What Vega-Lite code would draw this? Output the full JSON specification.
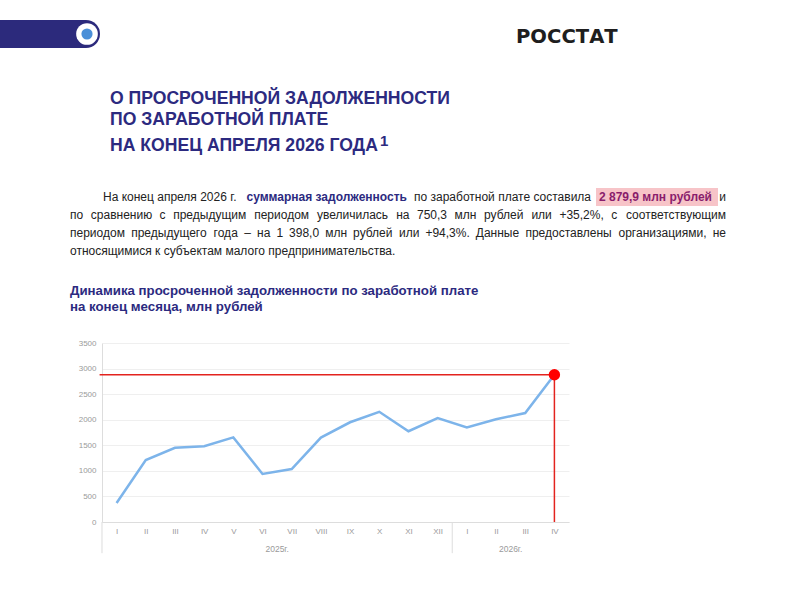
{
  "$schema": "https://vega.github.io/schema/vega-lite/v6.json",
  "width": 467,
  "height": 179,
  "autosize": {"type": "none"},
  "padding": {"left": 102, "top": 343, "right": 231, "bottom": 82},
  "background": "white",
  "config": {"view": {"stroke": null}, "font": "Liberation Sans"},
  "datasets": {
    "debt": [
      {"period": "I|2025", "month": "I", "value": 370},
      {"period": "II|2025", "month": "II", "value": 1210},
      {"period": "III|2025", "month": "III", "value": 1450},
      {"period": "IV|2025", "month": "IV", "value": 1481.9},
      {"period": "V|2025", "month": "V", "value": 1655},
      {"period": "VI|2025", "month": "VI", "value": 940},
      {"period": "VII|2025", "month": "VII", "value": 1035},
      {"period": "VIII|2025", "month": "VIII", "value": 1650},
      {"period": "IX|2025", "month": "IX", "value": 1950},
      {"period": "X|2025", "month": "X", "value": 2155},
      {"period": "XI|2025", "month": "XI", "value": 1775},
      {"period": "XII|2025", "month": "XII", "value": 2030},
      {"period": "I|2026", "month": "I", "value": 1850},
      {"period": "II|2026", "month": "II", "value": 2010},
      {"period": "III|2026", "month": "III", "value": 2129.6},
      {"period": "IV|2026", "month": "IV", "value": 2879.9}
    ],
    "ref": [{"period": "I|2025", "last": "IV|2026", "value": 2879.9}],
    "years": [
      {"period": "VI|2025", "year": "2025г."},
      {"period": "II|2026", "year": "2026г."}
    ],
    "one": [{}]
  },
  "data": {"name": "debt"},
  "layer": [
    {"data": {"name": "one"}, "mark": {"type": "rule", "stroke": "#2c2a7c", "strokeWidth": 28, "strokeCap": "round"},
      "encoding": {"x": {"value": -130}, "x2": {"value": -16}, "y": {"value": -309}, "y2": {"value": -309}}},
    {"data": {"name": "one"}, "mark": {"type": "point", "filled": true, "fill": "white", "size": 470, "opacity": 1},
      "encoding": {"x": {"value": -15}, "y": {"value": -309}}},
    {"data": {"name": "one"}, "mark": {"type": "point", "filled": true, "fill": "#4a8fd8", "size": 125, "opacity": 1},
      "encoding": {"x": {"value": -15}, "y": {"value": -309}}},
    {"data": {"name": "one"}, "mark": {"type": "text", "text": "РОССТАТ", "font": "DejaVu Sans", "fontWeight": "bold", "fontSize": 19.6, "fill": "#1e1e1e", "align": "left", "baseline": "alphabetic"},
      "encoding": {"x": {"value": 414}, "y": {"value": -300}}},
    {"data": {"name": "one"}, "mark": {"type": "text", "text": "О ПРОСРОЧЕННОЙ ЗАДОЛЖЕННОСТИ", "fontWeight": "bold", "fontSize": 17.6, "fill": "#2c2a80", "align": "left", "baseline": "alphabetic"},
      "encoding": {"x": {"value": 8}, "y": {"value": -239}}},
    {"data": {"name": "one"}, "mark": {"type": "text", "text": "ПО ЗАРАБОТНОЙ ПЛАТЕ", "fontWeight": "bold", "fontSize": 17.6, "fill": "#2c2a80", "align": "left", "baseline": "alphabetic"},
      "encoding": {"x": {"value": 8}, "y": {"value": -218}}},
    {"data": {"name": "one"}, "mark": {"type": "text", "text": "НА КОНЕЦ АПРЕЛЯ 2026 ГОДА", "fontWeight": "bold", "fontSize": 17.6, "fill": "#2c2a80", "align": "left", "baseline": "alphabetic"},
      "encoding": {"x": {"value": 8}, "y": {"value": -192}}},
    {"data": {"name": "one"}, "mark": {"type": "text", "text": "1", "fontWeight": "bold", "fontSize": 15, "fill": "#2c2a80", "align": "left", "baseline": "alphabetic"},
      "encoding": {"x": {"value": 278}, "y": {"value": -197}}},
    {"data": {"name": "one"}, "mark": {"type": "rect", "fill": "#f7c4c8"},
      "encoding": {"x": {"value": 494}, "x2": {"value": 616}, "y": {"value": -155}, "y2": {"value": -137}}},
    {"data": {"name": "one"}, "mark": {"type": "text", "text": "На конец апреля 2026 г.", "fontSize": 12, "fill": "#222222", "align": "left", "baseline": "alphabetic"},
      "encoding": {"x": {"value": 1}, "y": {"value": -142}}},
    {"data": {"name": "one"}, "mark": {"type": "text", "text": "суммарная задолженность", "fontWeight": "bold", "fontSize": 12, "fill": "#2c2a80", "align": "left", "baseline": "alphabetic"},
      "encoding": {"x": {"value": 144.5}, "y": {"value": -142}}},
    {"data": {"name": "one"}, "mark": {"type": "text", "text": "по заработной плате составила", "fontSize": 12, "fill": "#222222", "align": "left", "baseline": "alphabetic"},
      "encoding": {"x": {"value": 312}, "y": {"value": -142}}},
    {"data": {"name": "one"}, "mark": {"type": "text", "text": "2 879,9 млн рублей", "fontWeight": "bold", "fontSize": 12, "fill": "#8a1d6c", "align": "left", "baseline": "alphabetic"},
      "encoding": {"x": {"value": 497}, "y": {"value": -142}}},
    {"data": {"name": "one"}, "mark": {"type": "text", "text": "и", "fontSize": 12, "fill": "#222222", "align": "right", "baseline": "alphabetic"},
      "encoding": {"x": {"value": 624}, "y": {"value": -142}}},

    {"data": {"name": "one"}, "mark": {"type": "text", "text": "по", "fontSize": 12, "fill": "#222222", "align": "left", "baseline": "alphabetic"}, "encoding": {"x": {"value": -32}, "y": {"value": -124}}},
    {"data": {"name": "one"}, "mark": {"type": "text", "text": "сравнению", "fontSize": 12, "fill": "#222222", "align": "left", "baseline": "alphabetic"}, "encoding": {"x": {"value": -11.2}, "y": {"value": -124}}},
    {"data": {"name": "one"}, "mark": {"type": "text", "text": "с", "fontSize": 12, "fill": "#222222", "align": "left", "baseline": "alphabetic"}, "encoding": {"x": {"value": 57.6}, "y": {"value": -124}}},
    {"data": {"name": "one"}, "mark": {"type": "text", "text": "предыдущим", "fontSize": 12, "fill": "#222222", "align": "left", "baseline": "alphabetic"}, "encoding": {"x": {"value": 71.2}, "y": {"value": -124}}},
    {"data": {"name": "one"}, "mark": {"type": "text", "text": "периодом", "fontSize": 12, "fill": "#222222", "align": "left", "baseline": "alphabetic"}, "encoding": {"x": {"value": 152.2}, "y": {"value": -124}}},
    {"data": {"name": "one"}, "mark": {"type": "text", "text": "увеличилась", "fontSize": 12, "fill": "#222222", "align": "left", "baseline": "alphabetic"}, "encoding": {"x": {"value": 215}, "y": {"value": -124}}},
    {"data": {"name": "one"}, "mark": {"type": "text", "text": "на", "fontSize": 12, "fill": "#222222", "align": "left", "baseline": "alphabetic"}, "encoding": {"x": {"value": 294.2}, "y": {"value": -124}}},
    {"data": {"name": "one"}, "mark": {"type": "text", "text": "750,3", "fontSize": 12, "fill": "#222222", "align": "left", "baseline": "alphabetic"}, "encoding": {"x": {"value": 315}, "y": {"value": -124}}},
    {"data": {"name": "one"}, "mark": {"type": "text", "text": "млн", "fontSize": 12, "fill": "#222222", "align": "left", "baseline": "alphabetic"}, "encoding": {"x": {"value": 352.6}, "y": {"value": -124}}},
    {"data": {"name": "one"}, "mark": {"type": "text", "text": "рублей", "fontSize": 12, "fill": "#222222", "align": "left", "baseline": "alphabetic"}, "encoding": {"x": {"value": 382}, "y": {"value": -124}}},
    {"data": {"name": "one"}, "mark": {"type": "text", "text": "или", "fontSize": 12, "fill": "#222222", "align": "left", "baseline": "alphabetic"}, "encoding": {"x": {"value": 429.4}, "y": {"value": -124}}},
    {"data": {"name": "one"}, "mark": {"type": "text", "text": "+35,2%,", "fontSize": 12, "fill": "#222222", "align": "left", "baseline": "alphabetic"}, "encoding": {"x": {"value": 457.4}, "y": {"value": -124}}},
    {"data": {"name": "one"}, "mark": {"type": "text", "text": "с", "fontSize": 12, "fill": "#222222", "align": "left", "baseline": "alphabetic"}, "encoding": {"x": {"value": 509.3}, "y": {"value": -124}}},
    {"data": {"name": "one"}, "mark": {"type": "text", "text": "соответствующим", "fontSize": 12, "fill": "#222222", "align": "right", "baseline": "alphabetic"}, "encoding": {"x": {"value": 624}, "y": {"value": -124}}},

    {"data": {"name": "one"}, "mark": {"type": "text", "text": "периодом", "fontSize": 12, "fill": "#222222", "align": "left", "baseline": "alphabetic"}, "encoding": {"x": {"value": -32}, "y": {"value": -106}}},
    {"data": {"name": "one"}, "mark": {"type": "text", "text": "предыдущего", "fontSize": 12, "fill": "#222222", "align": "left", "baseline": "alphabetic"}, "encoding": {"x": {"value": 29.2}, "y": {"value": -106}}},
    {"data": {"name": "one"}, "mark": {"type": "text", "text": "года", "fontSize": 12, "fill": "#222222", "align": "left", "baseline": "alphabetic"}, "encoding": {"x": {"value": 111.6}, "y": {"value": -106}}},
    {"data": {"name": "one"}, "mark": {"type": "text", "text": "–", "fontSize": 12, "fill": "#222222", "align": "left", "baseline": "alphabetic"}, "encoding": {"x": {"value": 142.3}, "y": {"value": -106}}},
    {"data": {"name": "one"}, "mark": {"type": "text", "text": "на", "fontSize": 12, "fill": "#222222", "align": "left", "baseline": "alphabetic"}, "encoding": {"x": {"value": 155.1}, "y": {"value": -106}}},
    {"data": {"name": "one"}, "mark": {"type": "text", "text": "1", "fontSize": 12, "fill": "#222222", "align": "left", "baseline": "alphabetic"}, "encoding": {"x": {"value": 174.4}, "y": {"value": -106}}},
    {"data": {"name": "one"}, "mark": {"type": "text", "text": "398,0", "fontSize": 12, "fill": "#222222", "align": "left", "baseline": "alphabetic"}, "encoding": {"x": {"value": 187.1}, "y": {"value": -106}}},
    {"data": {"name": "one"}, "mark": {"type": "text", "text": "млн", "fontSize": 12, "fill": "#222222", "align": "left", "baseline": "alphabetic"}, "encoding": {"x": {"value": 223.2}, "y": {"value": -106}}},
    {"data": {"name": "one"}, "mark": {"type": "text", "text": "рублей", "fontSize": 12, "fill": "#222222", "align": "left", "baseline": "alphabetic"}, "encoding": {"x": {"value": 251.1}, "y": {"value": -106}}},
    {"data": {"name": "one"}, "mark": {"type": "text", "text": "или", "fontSize": 12, "fill": "#222222", "align": "left", "baseline": "alphabetic"}, "encoding": {"x": {"value": 297}, "y": {"value": -106}}},
    {"data": {"name": "one"}, "mark": {"type": "text", "text": "+94,3%.", "fontSize": 12, "fill": "#222222", "align": "left", "baseline": "alphabetic"}, "encoding": {"x": {"value": 323.4}, "y": {"value": -106}}},
    {"data": {"name": "one"}, "mark": {"type": "text", "text": "Данные", "fontSize": 12, "fill": "#222222", "align": "left", "baseline": "alphabetic"}, "encoding": {"x": {"value": 373.8}, "y": {"value": -106}}},
    {"data": {"name": "one"}, "mark": {"type": "text", "text": "предоставлены", "fontSize": 12, "fill": "#222222", "align": "left", "baseline": "alphabetic"}, "encoding": {"x": {"value": 423.4}, "y": {"value": -106}}},
    {"data": {"name": "one"}, "mark": {"type": "text", "text": "организациями,", "fontSize": 12, "fill": "#222222", "align": "left", "baseline": "alphabetic"}, "encoding": {"x": {"value": 516.5}, "y": {"value": -106}}},
    {"data": {"name": "one"}, "mark": {"type": "text", "text": "не", "fontSize": 12, "fill": "#222222", "align": "right", "baseline": "alphabetic"}, "encoding": {"x": {"value": 624}, "y": {"value": -106}}},

    {"data": {"name": "one"}, "mark": {"type": "text", "text": "относящимися к субъектам малого предпринимательства.", "fontSize": 12, "fill": "#222222", "align": "left", "baseline": "alphabetic"},
      "encoding": {"x": {"value": -32}, "y": {"value": -88}}},
    {"data": {"name": "one"}, "mark": {"type": "text", "text": "Динамика просроченной задолженности по заработной плате", "fontWeight": "bold", "fontSize": 13.25, "fill": "#2c2a80", "align": "left", "baseline": "alphabetic"},
      "encoding": {"x": {"value": -32}, "y": {"value": -48}}},
    {"data": {"name": "one"}, "mark": {"type": "text", "text": "на конец месяца, млн рублей", "fontWeight": "bold", "fontSize": 13.25, "fill": "#2c2a80", "align": "left", "baseline": "alphabetic"},
      "encoding": {"x": {"value": -32}, "y": {"value": -32}}},
    {
      "mark": {"type": "line", "stroke": "#7db4ea", "strokeWidth": 2.5},
      "encoding": {
        "x": {
          "field": "period", "type": "ordinal",
          "scale": {"type": "point", "padding": 0.5, "domain": ["I|2025","II|2025","III|2025","IV|2025","V|2025","VI|2025","VII|2025","VIII|2025","IX|2025","X|2025","XI|2025","XII|2025","I|2026","II|2026","III|2026","IV|2026"]},
          "axis": {"title": null, "labelExpr": "split(datum.value, '|')[0]", "labelAngle": 0, "labelColor": "#9a9a9a", "labelFontSize": 8, "labelPadding": 5, "ticks": false, "domainColor": "#dddddd", "grid": false}
        },
        "y": {
          "field": "value", "type": "quantitative",
          "scale": {"domain": [0, 3500], "nice": false},
          "axis": {"title": null, "values": [0, 500, 1000, 1500, 2000, 2500, 3000, 3500], "tickCount": 10, "format": "d", "labelOverlap": false, "labelFlush": false, "labelColor": "#9a9a9a", "labelFontSize": 8, "labelPadding": 6, "ticks": false, "domainColor": "#dddddd", "gridColor": "#efefef"}
        }
      }
    },
    {
      "transform": [{"filter": "datum.month == 'I'"}],
      "mark": {"type": "rule", "stroke": "#dddddd", "strokeWidth": 1, "xOffset": -14.6},
      "encoding": {"x": {"field": "period", "type": "ordinal"}, "y": {"datum": 0, "type": "quantitative"}, "y2": {"datum": -610}}
    },
    {
      "data": {"name": "years"},
      "mark": {"type": "text", "fill": "#9a9a9a", "fontSize": 8.5, "dx": 14.6, "dy": 27, "baseline": "middle"},
      "encoding": {"x": {"field": "period", "type": "ordinal"}, "y": {"datum": 0, "type": "quantitative"}, "text": {"field": "year"}}
    },
    {
      "data": {"name": "ref"},
      "mark": {"type": "rule", "stroke": "#e3231e", "strokeWidth": 1.5, "xOffset": -17},
      "encoding": {"x": {"field": "period", "type": "ordinal"}, "x2": {"field": "last"}, "y": {"field": "value", "type": "quantitative"}}
    },
    {
      "data": {"name": "ref"},
      "mark": {"type": "rule", "stroke": "#e3231e", "strokeWidth": 1.5},
      "encoding": {"x": {"field": "last", "type": "ordinal"}, "y": {"field": "value", "type": "quantitative"}, "y2": {"datum": 0}}
    },
    {
      "data": {"name": "ref"},
      "mark": {"type": "point", "filled": true, "fill": "#ff0000", "size": 130, "opacity": 1},
      "encoding": {"x": {"field": "last", "type": "ordinal"}, "y": {"field": "value", "type": "quantitative"}}
    }
  ]
}
